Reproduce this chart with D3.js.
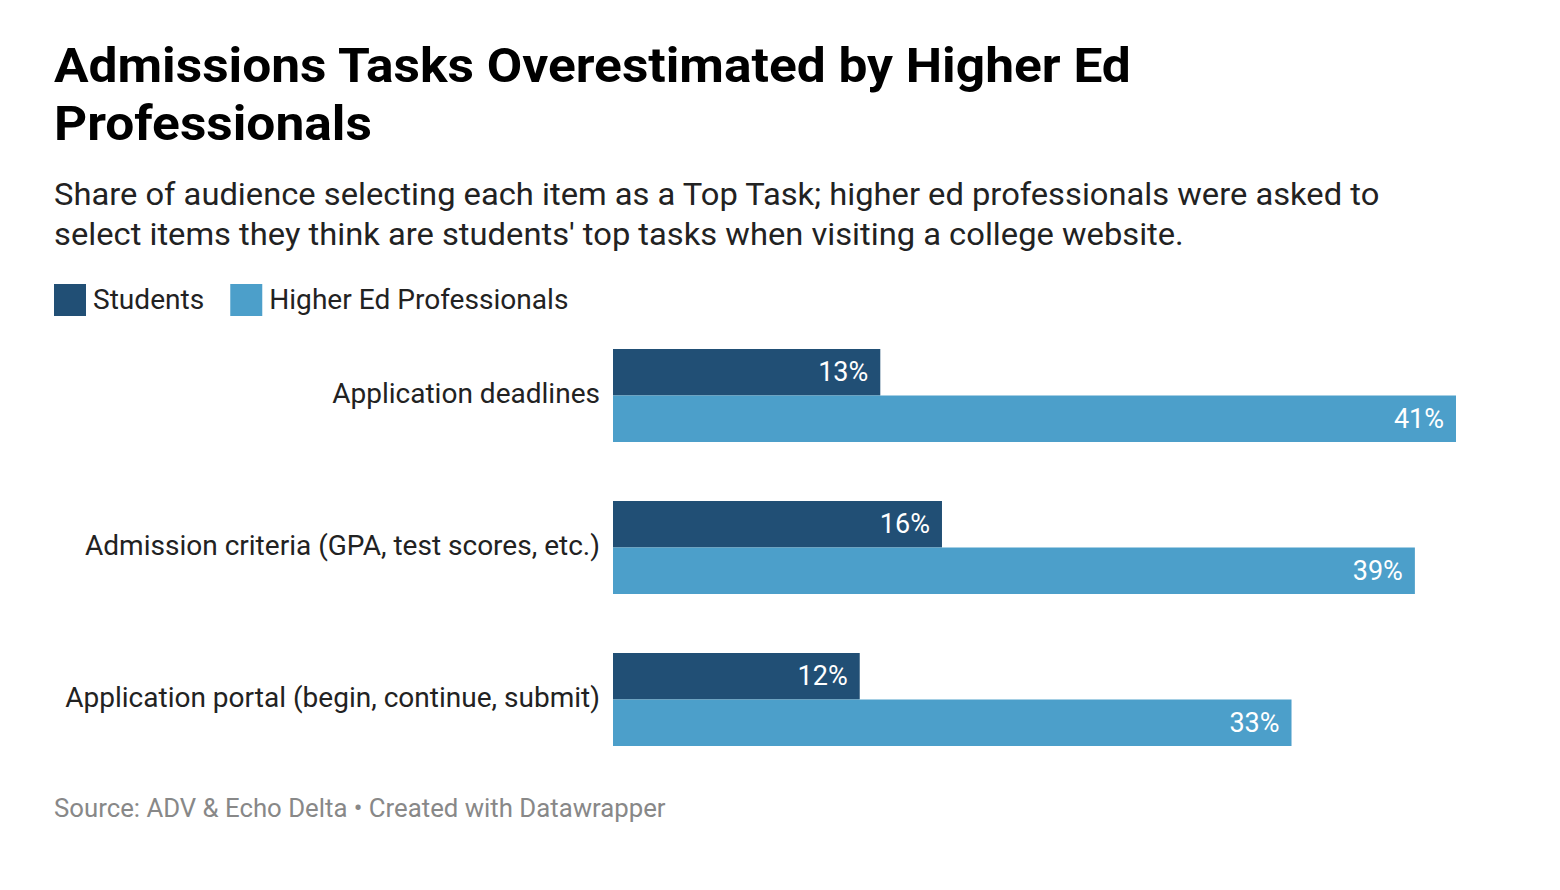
<!DOCTYPE html>
<html>
<head>
<meta charset="utf-8">
<script src="https://cdn.jsdelivr.net/npm/d3@7"></script>
<style>
  html, body { margin: 0; padding: 0; background: #fff; }
  svg { display: block; font-family: Roboto, "Noto Sans", sans-serif; }
</style>
</head>
<body>
<svg id="chart" width="1560" height="890"></svg>
<script>
const categories = [
  "Application deadlines",
  "Admission criteria (GPA, test scores, etc.)",
  "Application portal (begin, continue, submit)"
];
const seriesNames = ["Students", "Higher Ed Professionals"];
const studentsValues = [13, 16, 12];
const professionalsValues = [41, 39, 33];
const seriesColors = ["#214f75", "#4c9fca"];
const titleLines = ["Admissions Tasks Overestimated by Higher Ed", "Professionals"];
const subtitleLines = [
  "Share of audience selecting each item as a Top Task; higher ed professionals were asked to",
  "select items they think are students' top tasks when visiting a college website."
];
const sourceText = "Source: ADV & Echo Delta \u2022 Created with Datawrapper";

const svg = d3.select("#chart");

// horizontally widen text to match reference glyph widths
function stretch(sel, f) {
  sel.each(function() {
    const L = this.getComputedTextLength();
    d3.select(this).attr("textLength", L * f).attr("lengthAdjust", "spacingAndGlyphs");
  });
  return sel;
}

// Title
titleLines.forEach((t, i) => {
  const el = svg.append("text")
    .attr("x", 54).attr("y", 82 + i * 58)
    .attr("font-size", 48).attr("font-weight", 700).attr("fill", "#000").text(t);
  stretch(el, 1.072);
});

// Subtitle
subtitleLines.forEach((t, i) => {
  const el = svg.append("text")
    .attr("x", 54).attr("y", 205 + i * 40)
    .attr("font-size", 31).attr("fill", "#222").text(t);
  stretch(el, 1.055);
});

// Legend
const legend = svg.append("g");
let lx = 54;
seriesNames.forEach((name, i) => {
  legend.append("rect").attr("x", lx).attr("y", 284).attr("width", 32).attr("height", 32).attr("fill", seriesColors[i]);
  const t = legend.append("text").attr("x", lx + 39).attr("y", 309).attr("font-size", 27).attr("fill", "#222").text(name);
  const L = t.node().getComputedTextLength() * 1.04;
  stretch(t, 1.04);
  lx = lx + 39 + L + 26;
});

// Scales
const x = d3.scaleLinear().domain([0, 41]).range([613, 1456]);
const groupY = d3.scaleBand().domain(categories).range([349, 349 + 152 * 3]).paddingInner(0).paddingOuter(0);
const groupH = 93;
const sub2 = d3.scaleBand().domain(seriesNames).range([0, groupH]);

const data = categories.map((c, i) => ({ cat: c, vals: [studentsValues[i], professionalsValues[i]] }));

const groups = svg.append("g").selectAll("g").data(data).join("g")
  .attr("transform", d => `translate(0,${groupY(d.cat)})`);

const labels = groups.append("text")
  .attr("x", 600).attr("y", groupH / 2 + 7)
  .attr("text-anchor", "end").attr("font-size", 27).attr("fill", "#222")
  .text(d => d.cat);
stretch(labels, 1.038);

groups.each(function(d) {
  const g = d3.select(this);
  d.vals.forEach((v, j) => {
    const s = seriesNames[j];
    g.append("rect")
      .attr("x", x(0)).attr("y", sub2(s))
      .attr("width", x(v) - x(0)).attr("height", sub2.bandwidth())
      .attr("fill", seriesColors[j]);
    g.append("text")
      .attr("x", x(v) - 12).attr("y", sub2(s) + sub2.bandwidth() / 2 + 9)
      .attr("text-anchor", "end").attr("font-size", 27).attr("fill", "#fff")
      .text(v + "%");
  });
});

// Source
const src = svg.append("text").attr("x", 54).attr("y", 817)
  .attr("font-size", 25).attr("fill", "#888").text(sourceText);
stretch(src, 1.03);
</script>
</body>
</html>
